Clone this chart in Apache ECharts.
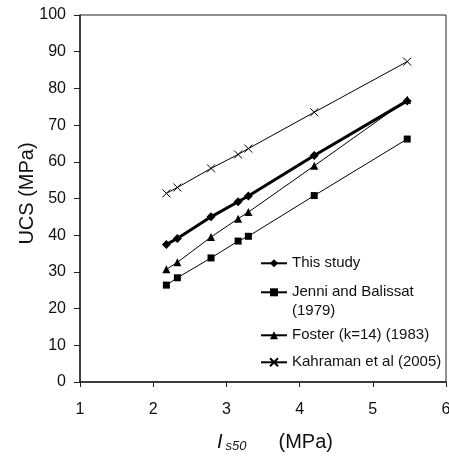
<!DOCTYPE html>
<html>
<head>
<meta charset="utf-8">
<script src="https://cdn.jsdelivr.net/npm/echarts@6/dist/echarts.min.js"></script>
<style>html,body{margin:0;padding:0;background:#fff}#c{width:449px;height:456px}</style>
</head>
<body>
<div id="c"></div>
<script>
// Point load index Is50 (MPa)
var isValues = [2.18, 2.33, 2.79, 3.16, 3.30, 4.20, 5.47];
// UCS (MPa)
var thisStudy = [37.5, 39.1, 45.0, 49.1, 50.7, 61.7, 76.6];
var jenni = [26.4, 28.4, 33.8, 38.4, 39.7, 50.8, 66.2];
var foster = [30.7, 32.6, 39.5, 44.5, 46.3, 58.9, 76.9];
var kahraman = [51.4, 53.0, 58.2, 62.0, 63.6, 73.5, 87.3];
var seriesNames = ['This study', 'Jenni and Balissat (1979)', 'Foster (k=14) (1983)', 'Kahraman et al (2005)'];
var xTicks = [1, 2, 3, 4, 5, 6];
var yTicks = [0, 10, 20, 30, 40, 50, 60, 70, 80, 90, 100];

function pairs(ys) { return isValues.map(function (x, i) { return [x, ys[i]]; }); }

var FONT = 'Liberation Sans';
var INK = '#111';
var crossPath = 'path://M0,0L10,10M0,10L10,0';

function legendFor(name, top, fmt) {
  return {
    data: [name], left: 260, top: top, padding: 0, itemWidth: 26, itemHeight: 10, itemGap: 5,
    selectedMode: false,
    formatter: fmt || undefined,
    textStyle: { fontFamily: FONT, fontSize: 15, color: INK, lineHeight: 19 }
  };
}

var chart = echarts.init(document.getElementById('c'), null, { renderer: 'canvas' });
chart.setOption({
  animation: false,
  backgroundColor: '#fff',
  grid: { left: 80, top: 15, right: 3, bottom: 74, show: true, borderColor: '#222', borderWidth: 1,
          backgroundColor: 'transparent', containLabel: false, outerBoundsMode: 'none' },
  legend: [
    legendFor(seriesNames[0], 263.3 - 9.5),
    legendFor(seriesNames[1], 292.3 - 28.5, function () { return ' \nJenni and Balissat\n(1979)'; }),
    legendFor(seriesNames[2], 335.3 - 9.5),
    legendFor(seriesNames[3], 362.3 - 9.5)
  ],
  xAxis: {
    type: 'value', min: xTicks[0], max: xTicks[xTicks.length - 1], interval: 1,
    axisLine: { show: true, lineStyle: { color: '#222', width: 1.5 } },
    axisTick: { show: true, length: 5, lineStyle: { color: '#222', width: 1 } },
    splitLine: { show: false },
    axisLabel: { fontFamily: FONT, fontSize: 16, color: INK, margin: 20, hideOverlap: false },
    name: '{i|I}{s|s50}{m|(MPa)}',
    nameLocation: 'middle', nameGap: 49,
    nameTextStyle: {
      rich: {
        i: { fontFamily: FONT, fontStyle: 'italic', fontSize: 20, color: INK, padding: [0, 3, 0, 24] },
        s: { fontFamily: FONT, fontStyle: 'italic', fontSize: 13, color: INK, padding: [9, 0, 0, 0] },
        m: { fontFamily: FONT, fontSize: 20, color: INK, padding: [0, 0, 0, 32] }
      }
    }
  },
  yAxis: {
    type: 'value', min: yTicks[0], max: yTicks[yTicks.length - 1], interval: 10,
    axisLine: { show: true, lineStyle: { color: '#222', width: 1.5 } },
    axisTick: { show: true, length: 6, lineStyle: { color: '#222', width: 1 } },
    splitLine: { show: false },
    axisLabel: { fontFamily: FONT, fontSize: 16, color: INK, margin: 14 },
    name: 'UCS (MPa)', nameLocation: 'middle', nameGap: 43, nameMoveOverlap: false,
    nameTextStyle: { fontFamily: FONT, fontSize: 20, color: INK, padding: [0, 0, 0, 10] }
  },
  series: [
    {
      name: seriesNames[2], type: 'line', data: pairs(foster),
      symbol: 'triangle', symbolSize: 8,
      lineStyle: { color: '#000', width: 1 },
      itemStyle: { color: '#000', borderWidth: 0 }
    },
    {
      name: seriesNames[1], type: 'line', data: pairs(jenni),
      symbol: 'rect', symbolSize: 7,
      lineStyle: { color: '#000', width: 1 },
      itemStyle: { color: '#000', borderWidth: 0 }
    },
    {
      name: seriesNames[3], type: 'line', data: pairs(kahraman),
      symbol: crossPath, symbolSize: 8,
      lineStyle: { color: '#000', width: 1 },
      itemStyle: { color: 'none', borderColor: '#000', borderWidth: 1 }
    },
    {
      name: seriesNames[0], type: 'line', data: pairs(thisStudy),
      symbol: 'diamond', symbolSize: 9,
      lineStyle: { color: '#000', width: 3 },
      itemStyle: { color: '#000', borderWidth: 0 }
    }
  ]
});
</script>
</body>
</html>
